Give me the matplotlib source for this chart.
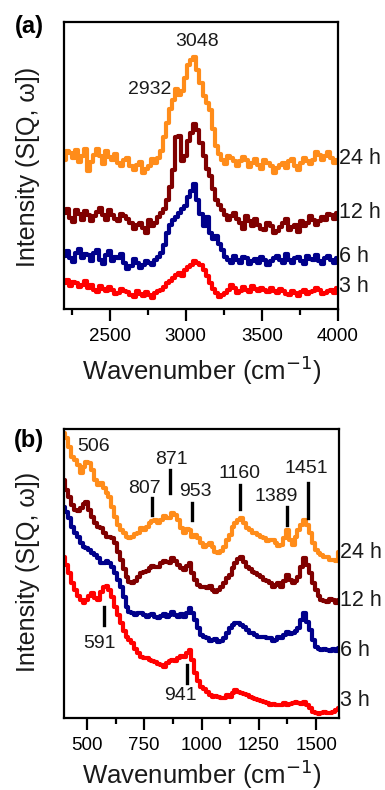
import numpy as np
import matplotlib
matplotlib.use('Agg')
import matplotlib.pyplot as plt
from matplotlib.ticker import MultipleLocator

plt.rcParams['font.family'] = ['Liberation Sans', 'DejaVu Sans']

# ---- panel (a): C-H stretch region, 20 cm-1 steps ----
wa = np.arange(2200, 4001, 20)
a_24h = [149, 158, 156, 151, 159, 147, 153, 160, 138, 147,
         154, 160, 153, 145, 158, 152, 149, 155, 146, 143,
         149, 151, 143, 139, 144, 147, 136, 140, 143, 150,
         146, 151, 158, 172, 186, 200, 209, 220, 214, 218,
         231, 244, 249, 252, 239, 226, 213, 206, 199, 180,
         163, 155, 149, 145, 153, 151, 148, 143, 148, 152,
         149, 142, 146, 150, 144, 140, 149, 146, 143, 136,
         141, 144, 146, 141, 148, 150, 143, 139, 146, 151,
         148, 145, 149, 157, 154, 149, 153, 157, 151, 146, 149]
a_12h = [96, 100, 91, 87, 99, 95, 89, 98, 94, 88,
         93, 97, 101, 94, 89, 99, 94, 90, 88, 95,
         93, 90, 86, 80, 84, 86, 81, 76, 89, 83,
         86, 92, 96, 100, 109, 122, 139, 172, 173, 148,
         153, 168, 176, 185, 179, 166, 153, 140, 133, 120,
         109, 104, 99, 94, 89, 93, 96, 90, 86, 80,
         93, 88, 83, 90, 84, 80, 79, 86, 83, 76,
         78, 82, 86, 90, 79, 82, 84, 77, 88, 83,
         86, 93, 89, 84, 88, 92, 89, 95, 94, 90, 96]
a_6h = [53, 58, 51, 47, 56, 60, 51, 55, 54, 48,
        56, 59, 49, 45, 54, 58, 48, 52, 51, 55,
        46, 40, 43, 50, 46, 41, 44, 48, 46, 44,
        49, 52, 56, 64, 76, 84, 89, 92, 96, 100,
        103, 112, 118, 125, 109, 95, 83, 92, 76, 70,
        73, 65, 59, 52, 49, 46, 53, 49, 46, 52,
        51, 45, 48, 50, 46, 52, 49, 44, 48, 51,
        53, 49, 46, 55, 49, 46, 51, 52, 48, 45,
        53, 50, 49, 54, 48, 45, 51, 53, 49, 46, 51]
a_3h = [26, 29, 23, 27, 26, 22, 24, 28, 21, 24,
        19, 17, 23, 20, 18, 22, 19, 15, 16, 20,
        18, 17, 14, 12, 18, 15, 13, 17, 14, 11,
        16, 18, 19, 22, 26, 28, 31, 34, 36, 33,
        39, 42, 44, 48, 46, 44, 39, 33, 26, 20,
        16, 12, 14, 16, 19, 24, 21, 16, 18, 22,
        19, 17, 23, 20, 18, 21, 19, 17, 21, 18,
        16, 20, 18, 15, 14, 18, 16, 13, 17, 19,
        15, 17, 18, 21, 19, 15, 16, 18, 19, 16, 21]
a_peaks = ['3048', '2932']
a_peak_x = [3074, 2765]
a_peak_y = [267, 219]

# ---- panel (b): fingerprint region, 12.5 cm-1 steps ----
wb = np.arange(400, 1600.1, 12.5)
b_24h = [860, 845, 820, 790, 780, 765, 740, 760, 775, 770,
         750, 720, 705, 710, 695, 680, 670, 640, 610, 585,
         570, 560, 550, 545, 550, 558, 560, 575, 570, 578,
         590, 598, 600, 592, 600, 612, 605, 606, 620, 615,
         600, 575, 560, 572, 570, 550, 555, 545, 530, 520,
         525, 530, 520, 505, 500, 508, 520, 540, 555, 578,
         590, 600, 605, 590, 575, 570, 560, 562, 555, 548,
         545, 538, 540, 540, 530, 522, 525, 545, 570, 540,
         525, 548, 570, 585, 600, 585, 560, 530, 510, 500,
         495, 488, 490, 480, 480, 478, 505]
b_12h = [720, 690, 670, 645, 630, 628, 635, 648, 655, 630,
         610, 590, 580, 575, 560, 548, 550, 545, 530, 505,
         480, 452, 430, 415, 410, 418, 430, 440, 445, 448,
         455, 462, 460, 458, 470, 478, 475, 470, 485, 478,
         465, 455, 450, 462, 470, 440, 420, 405, 400, 398,
         395, 402, 390, 385, 390, 398, 410, 425, 435, 455,
         470, 482, 490, 475, 460, 452, 445, 440, 435, 430,
         420, 418, 410, 400, 405, 410, 400, 418, 435, 420,
         410, 418, 430, 460, 485, 465, 440, 410, 390, 372,
         360, 358, 355, 362, 360, 352, 360]
b_6h = [640, 625, 605, 580, 560, 548, 530, 520, 515, 510,
        500, 495, 485, 472, 470, 478, 470, 458, 440, 420,
        400, 368, 340, 325, 320, 315, 320, 322, 315, 310,
        315, 318, 310, 305, 312, 318, 310, 315, 325, 315,
        310, 318, 310, 322, 335, 320, 300, 275, 255, 248,
        245, 238, 240, 242, 235, 238, 245, 260, 275, 285,
        290, 292, 285, 278, 270, 262, 260, 255, 250, 248,
        250, 245, 245, 238, 240, 248, 245, 255, 265, 258,
        260, 268, 275, 300, 320, 295, 270, 240, 220, 212,
        210, 214, 210, 208, 212, 206, 215]
b_3h = [490, 465, 440, 412, 390, 372, 360, 352, 360, 372,
        380, 365, 360, 385, 400, 402, 390, 368, 340, 315,
        290, 268, 250, 240, 230, 212, 200, 190, 185, 186,
        180, 176, 175, 168, 165, 160, 170, 176, 180, 178,
        185, 192, 188, 200, 210, 180, 140, 118, 100, 92,
        85, 76, 70, 72, 70, 66, 65, 74, 70, 82,
        90, 84, 80, 78, 75, 70, 65, 62, 60, 58,
        55, 50, 45, 48, 45, 44, 45, 50, 45, 47,
        50, 54, 50, 48, 55, 45, 35, 25, 20, 18,
        20, 24, 22, 20, 25, 30, 35]
b_peaks = ['506', '871', '807', '953', '1160', '1389', '1451', '591', '941']
b_text_x = [527, 871, 753, 972, 1168, 1328, 1459, 557, 906]
b_text_y = [819, 780, 695, 685, 740, 670, 755, 230, 75]
b_line_x = [None, 863, 783, 960, 1168, 1375, 1463, 575, 938]
b_line_top = [None, 750, 665, 652, 705, 638, 710, 340, 165]
b_line_bot = [None, 680, 615, 600, 632, 585, 605, 285, 110]

times = ['24 h', '12 h', '6 h', '3 h']
colors = ['#FF8C1A', '#800000', '#00008B', '#FF0000']
a_label_y = [150, 97, 52, 22]
b_label_y = [504, 360, 210, 60]

fig = plt.figure(figsize=(3.85, 7.9), dpi=100)
ax1 = fig.add_axes([64/385, 1-309/790, 274/385, 287/790])
ax2 = fig.add_axes([64/385, 1-718/790, 275/385, 289/790])

for ser, c in zip([a_24h, a_12h, a_6h, a_3h], colors):
    ax1.plot(wa, ser, color=c, lw=3.0, drawstyle='steps-mid')
for ser, c in zip([b_24h, b_12h, b_6h, b_3h], colors):
    ax2.plot(wb, ser, color=c, lw=3.0, drawstyle='steps-mid')

ax1.set_xlim(2200, 4000)
ax1.set_ylim(0, 287)
ax2.set_xlim(400, 1600)
ax2.set_ylim(6, 873)

ax1.xaxis.set_major_locator(MultipleLocator(500))
ax1.xaxis.set_minor_locator(MultipleLocator(250))
ax2.xaxis.set_major_locator(MultipleLocator(250))
ax2.xaxis.set_minor_locator(MultipleLocator(125))

for ax in (ax1, ax2):
    ax.set_yticks([])
    for s in ax.spines.values():
        s.set_linewidth(1.6)
    ax.tick_params(axis='x', which='major', direction='out', length=8.5, width=1.6,
                   labelsize=13.5, pad=5.5, colors='black')
    ax.tick_params(axis='x', which='minor', direction='out', length=4.5, width=1.6)

for lab, x, y in zip(a_peaks, a_peak_x, a_peak_y):
    ax1.text(x, y, lab, fontsize=14, ha='center', va='center', color='#1a1a1a')

for lab, tx, ty, lx, lt, lb in zip(b_peaks, b_text_x, b_text_y, b_line_x, b_line_top, b_line_bot):
    ax2.text(tx, ty, lab, fontsize=14, ha='center', va='center', color='#1a1a1a')
    if lx is not None:
        ax2.plot([lx, lx], [lb, lt], color='black', lw=2.4)

for t, y in zip(times, a_label_y):
    ax1.text(1.005, y, t, transform=ax1.get_yaxis_transform(), fontsize=15.5,
             ha='left', va='center', color='#1a1a1a')
for t, y in zip(times, b_label_y):
    ax2.text(1.005, y, t, transform=ax2.get_yaxis_transform(), fontsize=15.5,
             ha='left', va='center', color='#1a1a1a')

fig.text(28/385, 1-167/790, 'Intensity (S[Q, ω])', rotation=90, fontsize=18,
         ha='center', va='center', color='#1a1a1a')
fig.text(28/385, 1-572/790, 'Intensity (S[Q, ω])', rotation=90, fontsize=18,
         ha='center', va='center', color='#1a1a1a')
fig.text(202/385, 1-370/790, 'Wavenumber (cm$^{-1}$)', fontsize=18.5,
         ha='center', va='center', color='#1a1a1a')
fig.text(202/385, 1-774/790, 'Wavenumber (cm$^{-1}$)', fontsize=18.5,
         ha='center', va='center', color='#1a1a1a')

fig.text(29/385, 1-26/790, '(a)', fontsize=17, fontweight='bold', ha='center', va='center')
fig.text(29/385, 1-440/790, '(b)', fontsize=17, fontweight='bold', ha='center', va='center')

plt.savefig('out.png', dpi=100)
